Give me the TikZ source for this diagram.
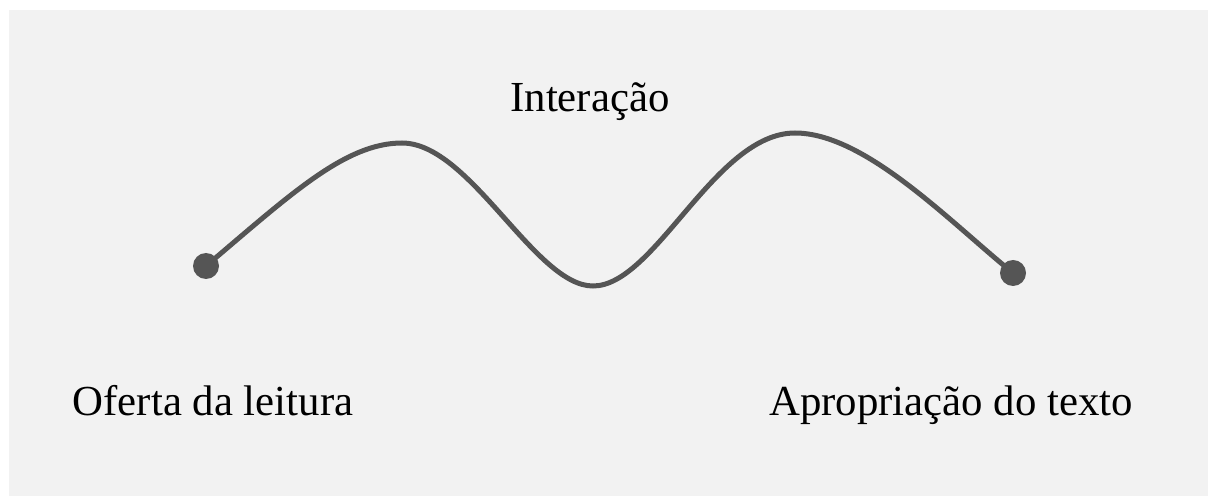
\documentclass[tikz,border=0pt]{standalone}
\usepackage{fontspec}
\setmainfont{Liberation Serif}
\usetikzlibrary{positioning,calc}

\definecolor{wavegray}{HTML}{555555}
\definecolor{bggray}{HTML}{F2F2F2}

\tikzset{
    label text/.style={anchor=base, inner sep=0pt, font=\fontsize{21.4}{26}\selectfont},
    end dot/.style={circle, fill=wavegray, inner sep=0pt, minimum size=13pt},
    wave/.style={line width=2.5pt, wavegray}
}

\begin{document}
\begin{tikzpicture}[x=0.5pt, y=-0.5pt]
    \useasboundingbox (0,0) rectangle (1208,496);
    \fill[bggray] (9,10) rectangle (1208,496);

    % End points
    \node[end dot] (start) at (206,266) {};
    \node[end dot] (finish) at (1013,273) {};

    % Wave
    \coordinate (peakA) at (402,143);
    \coordinate (trough) at (593,286);
    \coordinate (peakB) at (795,133);
    \draw[wave] (start.center) .. controls (290,195) and (345,143) .. (peakA)
        .. controls (470,143) and (535,286) .. (trough)
        .. controls (655,286) and (715,133) .. (peakB)
        .. controls (865,133) and (950,222) .. (finish.center);

    % Labels
    \node[label text] (inter) at (590,112) {Interação};
    \node[label text] (oferta) at (213,415) {Oferta da leitura};
    \node[label text] (aprop) at (951,415) {Apropriação do texto};
\end{tikzpicture}
\end{document}
